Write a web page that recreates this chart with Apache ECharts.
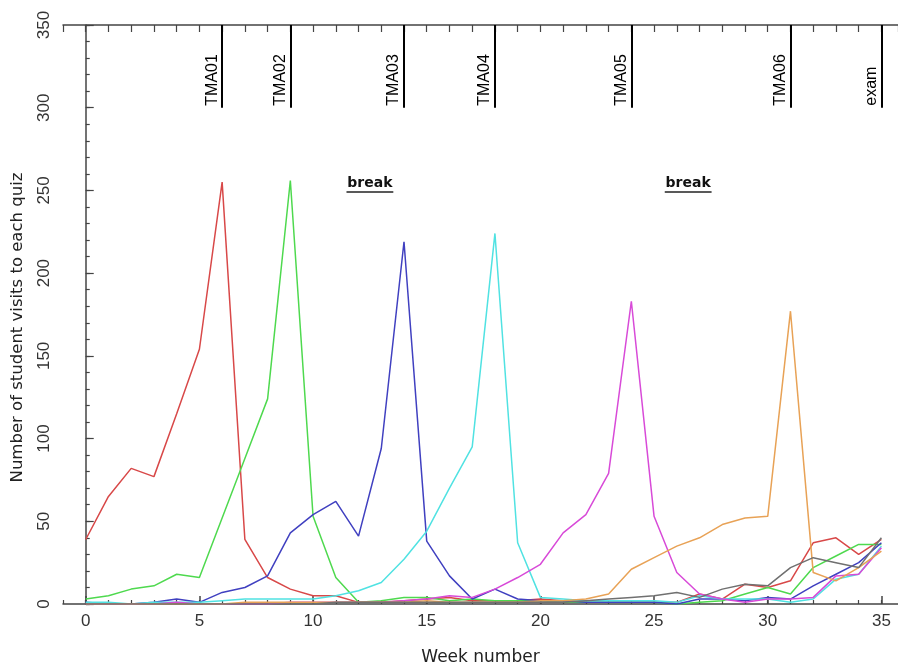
<!DOCTYPE html>
<html>
<head>
<meta charset="utf-8">
<script src="https://cdn.jsdelivr.net/npm/echarts@6/dist/echarts.min.js"></script>
<style>
html,body{margin:0;padding:0;background:#fff;}
#chart{width:898px;height:666px;}
</style>
</head>
<body>
<div id="chart"></div>
<script>
const weeks = [0,1,2,3,4,5,6,7,8,9,10,11,12,13,14,15,16,17,18,19,20,21,22,23,24,25,26,27,28,29,30,31,32,33,34,35];
const quiz1 = [39,65,82,77,115,154,255,39,16,9,5,5,1,1,2,3,4,2,2,2,3,2,1,1,1,1,1,6,3,12,10,14,37,40,30,39];
const quiz2 = [3,5,9,11,18,16,52,88,124,256,53,16,1,2,4,4,2,3,2,2,2,1,1,1,1,1,0,1,2,6,10,6,22,29,36,36];
const quiz3 = [1,0,0,1,3,1,7,10,17,43,54,62,41,94,219,38,17,3,9,3,2,2,1,1,1,1,0,3,3,2,4,3,11,18,25,37];
const quiz4 = [1,1,0,1,1,1,2,3,3,3,3,5,8,13,27,44,70,95,224,37,4,3,2,2,2,2,1,5,3,3,3,1,3,15,18,35];
const quiz5 = [0,0,0,0,1,0,0,0,0,1,1,1,1,1,2,3,5,4,9,16,24,43,54,79,183,53,19,6,3,1,3,3,4,17,18,34];
const quiz6 = [0,0,0,0,0,0,0,1,1,1,1,1,1,1,1,2,1,1,1,1,2,2,3,6,21,28,35,40,48,52,53,177,19,14,22,32];
const quiz7 = [0,0,0,0,0,0,0,0,0,0,0,1,1,1,1,1,1,1,1,1,1,1,2,3,4,5,7,4,9,12,11,22,28,25,22,40];
const seriesValues = [quiz1, quiz2, quiz3, quiz4, quiz5, quiz6, quiz7];
const seriesColors = ['#d84848','#4ed94e','#4040c0','#50e2e2','#d84ad8','#e8a256','#707070'];
const tmaWeeks = [6, 9, 14, 18, 24, 31, 35];
const tmaLabels = ['TMA01','TMA02','TMA03','TMA04','TMA05','TMA06','exam'];
const breakWeeks = [12.5, 26.5];
const majorXTicks = [0,5,10,15,20,25,30,35];

const chart = echarts.init(document.getElementById('chart'), null, {renderer:'canvas'});

const series = seriesValues.map((vals, k) => ({
  type: 'line',
  data: weeks.map((w, i) => [w, vals[i]]),
  showSymbol: false,
  symbol: 'none',
  lineStyle: {color: seriesColors[k], width: 1.5},
  itemStyle: {color: seriesColors[k]},
  silent: true,
  z: 2
}));

series.push({
  type: 'line',
  data: [],
  silent: true,
  markLine: {
    silent: true,
    symbol: ['none','none'],
    animation: false,
    lineStyle: {color:'#000', width: 2, type:'solid'},
    label: {
      show: true,
      formatter: '{b}',
      position: 'insideStartTop',
      distance: 2,
      color: '#000',
      fontFamily: 'Liberation Sans',
      fontSize: 16
    },
    data: tmaWeeks.map((w, i) => [
      {coord: [w, 300], name: tmaLabels[i]},
      {coord: [w, 350]}
    ])
  }
});

series.push({
  type: 'line',
  data: [],
  silent: true,
  markLine: {
    silent: true,
    symbol: ['none','none'],
    animation: false,
    lineStyle: {color:'#222', width: 1.5, type:'solid'},
    label: {
      show: true,
      formatter: 'break',
      position: 'insideMiddleTop',
      distance: 1,
      color: '#111',
      fontFamily: 'DejaVu Sans',
      fontWeight: 'bold',
      fontSize: 14
    },
    data: breakWeeks.map(w => [
      {coord: [w - 1.03, 249.5]},
      {coord: [w + 1.03, 249.5]}
    ])
  }
});

const X_MIN = -1, X_MAX = 35.73;

const option = {
  animation: false,
  backgroundColor: '#fff',
  grid: {left: 63, top: 25, right: 0, bottom: 62, containLabel: false, outerBoundsMode: 'none'},
  xAxis: [
    {
      type: 'value', position: 'bottom', min: X_MIN, max: X_MAX, interval: 1,
      name: 'Week number', nameLocation: 'middle', nameGap: 45,
      nameTextStyle: {fontFamily: 'DejaVu Sans', fontSize: 17, color: '#222'},
      axisLine: {show: true, lineStyle: {color: '#444', width: 1.5}},
      axisTick: {show: true, inside: true, length: 4, lineStyle: {color: '#444', width: 1.2}},
      axisLabel: {
        show: true, margin: 9, fontFamily: 'Liberation Sans', fontSize: 17, color: '#333',
        showMaxLabel: false,
        formatter: v => (v >= 0 && v % 5 === 0) ? String(v) : ''
      },
      splitLine: {show: false}
    },
    {
      type: 'value', position: 'bottom', min: X_MIN, max: X_MAX,
      axisLine: {show: false},
      axisTick: {show: true, inside: true, length: 8, customValues: majorXTicks, lineStyle: {color: '#444', width: 1.5}},
      axisLabel: {show: false, customValues: majorXTicks},
      splitLine: {show: false}
    },
    {
      type: 'value', position: 'top', min: X_MIN, max: X_MAX, interval: 1,
      axisLine: {show: true, lineStyle: {color: '#444', width: 1.5}},
      axisTick: {show: true, inside: true, length: 7, lineStyle: {color: '#444', width: 1.2}},
      axisLabel: {show: false},
      splitLine: {show: false}
    }
  ],
  yAxis: [
    {
      type: 'value', position: 'left', min: 0, max: 350, interval: 50,
      name: 'Number of student visits to each quiz', nameLocation: 'middle', nameGap: 37,
      nameTextStyle: {fontFamily: 'DejaVu Sans', fontSize: 16.5, color: '#222', padding: [0, 26, 0, 0]},
      axisLine: {show: true, lineStyle: {color: '#444', width: 1.5}},
      axisTick: {show: true, inside: true, length: 8, lineStyle: {color: '#444', width: 1.2}},
      axisLabel: {show: true, rotate: 90, margin: 10, fontFamily: 'Liberation Sans', fontSize: 17, color: '#333'},
      splitLine: {show: false}
    },
    {
      type: 'value', position: 'left', offset: 0, min: 0, max: 350, interval: 10,
      axisLine: {show: false},
      axisTick: {show: true, inside: true, length: 4, lineStyle: {color: '#444', width: 1.2}},
      axisLabel: {show: false},
      splitLine: {show: false}
    }
  ],
  series: series
};
chart.setOption(option);
</script>
</body>
</html>
